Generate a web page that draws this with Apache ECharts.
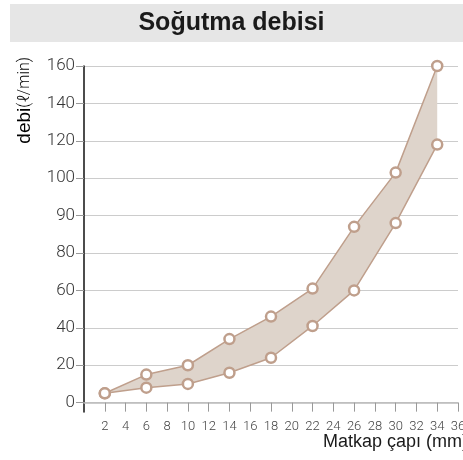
<!DOCTYPE html>
<html><head><meta charset="utf-8">
<script src="https://cdn.jsdelivr.net/npm/echarts@6/dist/echarts.min.js"></script>
<style>html,body{margin:0;padding:0;background:#fff}#c{width:463px;height:460px}</style>
</head><body><div id="c"></div>
<script>
const drillDiameters = [2, 6, 10, 14, 18, 22, 26, 30, 34];
const upperFlow = [5, 15, 20, 34, 46, 61, 87, 103, 160];
const lowerFlow = [5, 8, 10, 16, 24, 41, 60, 88, 118];
const yTickLabels = [0, 20, 40, 60, 80, 90, 100, 120, 140, 160];
const xTicks = [2,4,6,8,10,12,14,16,18,20,22,24,26,28,30,32,34,36];

// the reference y axis is evenly spaced by tick index, not by value
function toPos(v) {
  for (let i = 0; i < yTickLabels.length - 1; i++) {
    if (v <= yTickLabels[i + 1]) return i + (v - yTickLabels[i]) / (yTickLabels[i + 1] - yTickLabels[i]);
  }
  return yTickLabels.length - 1;
}
const lowerPts = drillDiameters.map((x, i) => [x, toPos(lowerFlow[i])]);
const upperPts = drillDiameters.map((x, i) => [x, toPos(upperFlow[i])]);
const yIdx = yTickLabels.map((_, i) => i);

const lineColor = '#bf9f8c';
const fillColor = '#ded4cb';
const sym = { type: 'line', symbol: 'circle', symbolSize: 10, showSymbol: true, showAllSymbol: true, z: 3,
  itemStyle: { color: '#ffffff', borderColor: lineColor, borderWidth: 2.5 },
  lineStyle: { color: lineColor, width: 1.5 } };

const chart = echarts.init(document.getElementById('c'));
chart.setOption({
  animation: false,
  title: {
    text: 'Soğutma debisi', left: 'center', top: 6, padding: [5, 0, 5, 10],
    textStyle: { fontFamily: 'Liberation Sans', fontWeight: 'bold', fontSize: 25, color: '#1a1a1a' }
  },
  graphic: [
    { type: 'rect', left: 10, top: 4, z: -10, shape: { width: 453, height: 38 }, style: { fill: '#e6e6e6' } },
    { type: 'text', x: 25, y: 57, rotation: Math.PI / 2,
      style: { text: '{a|debi}{b|(ℓ/min)}', align: 'right', verticalAlign: 'middle',
        rich: { a: { fontFamily: 'Liberation Sans', fontSize: 19, color: '#1a1a1a' },
                b: { fontFamily: 'Roboto', fontWeight: 300, fontSize: 16, color: '#444' } } } }
  ],
  grid: { left: 84, right: 5, top: 66, bottom: 48, outerBoundsMode: 'none', containLabel: false },
  xAxis: {
    type: 'value', min: 0, max: 36, interval: 2,
    axisLine: { onZero: true, lineStyle: { color: '#bbbbbb', width: 1.5 } },
    axisTick: { customValues: xTicks, length: 9, lineStyle: { color: '#999' } },
    axisLabel: { customValues: xTicks, margin: 8, fontFamily: 'Roboto', fontWeight: 300, fontSize: 13, color: '#444' },
    splitLine: { show: false },
    name: 'Matkap çapı (mm)', nameLocation: 'end', nameGap: 10, nameMoveOverlap: false,
    nameTextStyle: { align: 'right', verticalAlign: 'top', padding: [30, 0, 0, 0],
      fontFamily: 'Liberation Sans', fontSize: 18, color: '#1a1a1a' }
  },
  yAxis: {
    type: 'value', min: -0.25, max: 9,
    axisLine: { show: true, lineStyle: { color: '#111', width: 1.5 } },
    axisTick: { show: true, customValues: yIdx, length: 8, lineStyle: { color: '#999' } },
    axisLabel: { customValues: yIdx, margin: 9, fontFamily: 'Roboto', fontWeight: 300, fontSize: 17, color: '#333',
      formatter: v => String(yTickLabels[Math.round(v)]) },
    splitLine: { show: true, lineStyle: { color: '#cccccc', width: 1 } }
  },
  series: [
    { type: 'custom', name: 'band', z: 1, data: [0],
      renderItem: (params, api) => {
        const pts = upperPts.concat(lowerPts.slice().reverse()).map(p => api.coord(p));
        return { type: 'polygon', shape: { points: pts }, style: { fill: fillColor } };
      } },
    Object.assign({}, sym, { name: 'min', data: lowerPts }),
    Object.assign({}, sym, { name: 'max', data: upperPts })
  ]
});
</script></body></html>
